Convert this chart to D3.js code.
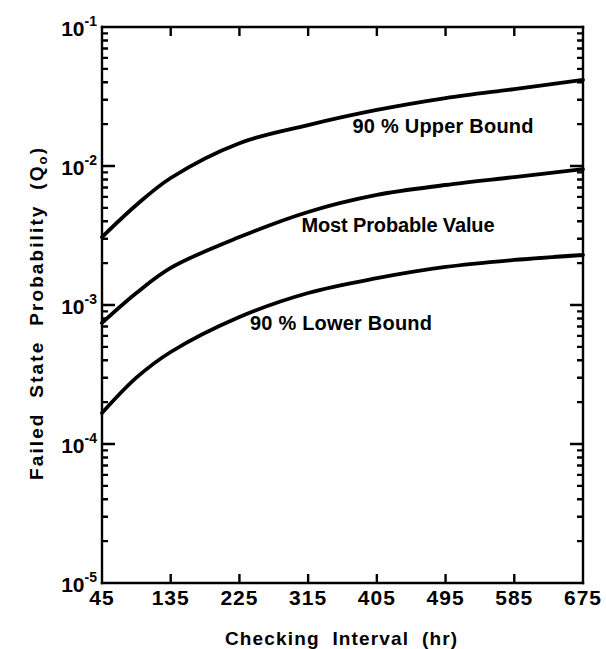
<!DOCTYPE html>
<html>
<head>
<meta charset="utf-8">
<script src="https://cdn.jsdelivr.net/npm/d3@7"></script>
<style>
  body { margin: 0; background: #fff; }
  text { font-family: "Liberation Sans", Arial, sans-serif; font-weight: bold; fill: #000; }
</style>
</head>
<body>
<div id="chart"></div>
<script>
const width = 606;
const height = 649;
const margin = {top: 27, right: 23, bottom: 66, left: 102};

// checking interval (hr)
const intervals = [45, 90, 135, 225, 315, 405, 495, 585, 675];
// failed state probability
const upperBound   = [3.08e-3, 5.24e-3, 8.2e-3, 1.46e-2, 1.97e-2, 2.53e-2, 3.08e-2, 3.58e-2, 4.16e-2];
const mostProbable = [7.43e-4, 1.22e-3, 1.85e-3, 3.08e-3, 4.67e-3, 6.19e-3, 7.30e-3, 8.33e-3, 9.5e-3];
const lowerBound   = [1.67e-4, 3.0e-4, 4.59e-4, 8.2e-4, 1.22e-3, 1.56e-3, 1.88e-3, 2.11e-3, 2.29e-3];

const xTicks = [45, 135, 225, 315, 405, 495, 585, 675];
const decades = [1e-5, 1e-4, 1e-3, 1e-2, 1e-1];
const decadeLabels = ["-5", "-4", "-3", "-2", "-1"];

const series = [
  {name: "90 % Upper Bound", values: upperBound},
  {name: "Most Probable Value", values: mostProbable},
  {name: "90 % Lower Bound", values: lowerBound}
];
// label placement: centre x, baseline y, text length (px)
const labelPos = [[443, 133, 181], [398, 232, 193], [341, 330, 182]];

const svg = d3.select("#chart").append("svg")
    .attr("width", width)
    .attr("height", height);

svg.append("rect").attr("width", width).attr("height", height).attr("fill", "#fff");

const x = d3.scaleLinear().domain([45, 675]).range([margin.left, width - margin.right]);
const y = d3.scaleLog().domain([1e-5, 1e-1]).range([height - margin.bottom, margin.top]);

const x0 = x.range()[0], x1 = x.range()[1];
const yb = y.range()[0], yt = y.range()[1];

// minor ticks 2..9 in every decade, decade ticks longer
const yTickVals = [];
decades.slice(0, -1).forEach((d, i) => {
  for (let k = 2; k <= 9; k++) yTickVals.push({v: d * k, len: 6});
  if (i < decades.length - 2) yTickVals.push({v: decades[i + 1], len: 13});
});
yTickVals.sort((a, b) => a.v - b.v);
const innerX = xTicks.slice(1, -1);

// each axis edge is one polyline walking along the edge with an inward spike per tick
function edgeLeft(xe, dir) {
  const pts = [[xe, yb]];
  yTickVals.forEach(t => {
    const py = y(t.v);
    pts.push([xe, py], [xe + dir * t.len, py], [xe, py]);
  });
  pts.push([xe, yt]);
  return pts;
}
function edgeX(ye, dir) {
  const pts = [[x0, ye]];
  innerX.forEach(v => {
    const px = x(v);
    pts.push([px, ye], [px, ye + dir * 9], [px, ye]);
  });
  pts.push([x1, ye]);
  return pts;
}
const edges = [edgeLeft(x0, 1), edgeLeft(x1, -1), edgeX(yb, -1), edgeX(yt, 1)];

svg.append("g").selectAll("path")
    .data(edges)
    .enter()
    .append("path")
    .attr("d", d3.line())
    .attr("fill", "none")
    .attr("stroke", "#000")
    .attr("stroke-width", 2.4)
    .attr("stroke-linejoin", "miter")
    .attr("stroke-linecap", "square");

// x tick labels
svg.append("g").selectAll("text")
    .data(xTicks)
    .enter()
    .append("text")
    .attr("x", d => x(d))
    .attr("y", yb + 22)
    .attr("text-anchor", "middle")
    .attr("font-size", 21)
    .attr("letter-spacing", 1)
    .text(d => d);

// y tick labels 10^n
const yLab = svg.append("g").selectAll("text")
    .data(decades)
    .enter()
    .append("text")
    .attr("x", 97)
    .attr("y", d => y(d) + 9)
    .attr("text-anchor", "end")
    .attr("font-size", 21);
yLab.append("tspan").text("10");
yLab.append("tspan")
    .attr("font-size", 14)
    .attr("dy", -10)
    .text((d, i) => decadeLabels[i]);

// axis titles
svg.append("text")
    .attr("x", 341)
    .attr("y", 645)
    .attr("text-anchor", "middle")
    .attr("font-size", 19)
    .attr("textLength", 232)
    .attr("lengthAdjust", "spacing")
    .attr("xml:space", "preserve")
    .text("Checking  Interval  (hr)");

const yTitle = svg.append("text")
    .attr("transform", "translate(43,314) rotate(-90)")
    .attr("text-anchor", "middle")
    .attr("font-size", 19)
    .attr("textLength", 332)
    .attr("lengthAdjust", "spacing")
    .attr("xml:space", "preserve");
yTitle.append("tspan").text("Failed  State  Probability  (Q");
yTitle.append("tspan").attr("font-size", 13).attr("dy", 4).text("o");
yTitle.append("tspan").attr("dy", -4).text(")");

// curves
const line = d3.line()
    .x((d, i) => x(intervals[i]))
    .y(d => y(d))
    .curve(d3.curveCatmullRom.alpha(0.5));

svg.append("g").selectAll("path")
    .data(series)
    .enter()
    .append("path")
    .attr("d", d => line(d.values))
    .attr("fill", "none")
    .attr("stroke", "#000")
    .attr("stroke-width", 3.8)
    .attr("stroke-linecap", "round");

// curve labels
svg.append("g").selectAll("text")
    .data(series)
    .enter()
    .append("text")
    .attr("x", (d, i) => labelPos[i][0])
    .attr("y", (d, i) => labelPos[i][1])
    .attr("text-anchor", "middle")
    .attr("font-size", 20)
    .attr("textLength", (d, i) => labelPos[i][2])
    .attr("lengthAdjust", "spacing")
    .text(d => d.name);
</script>
</body>
</html>
